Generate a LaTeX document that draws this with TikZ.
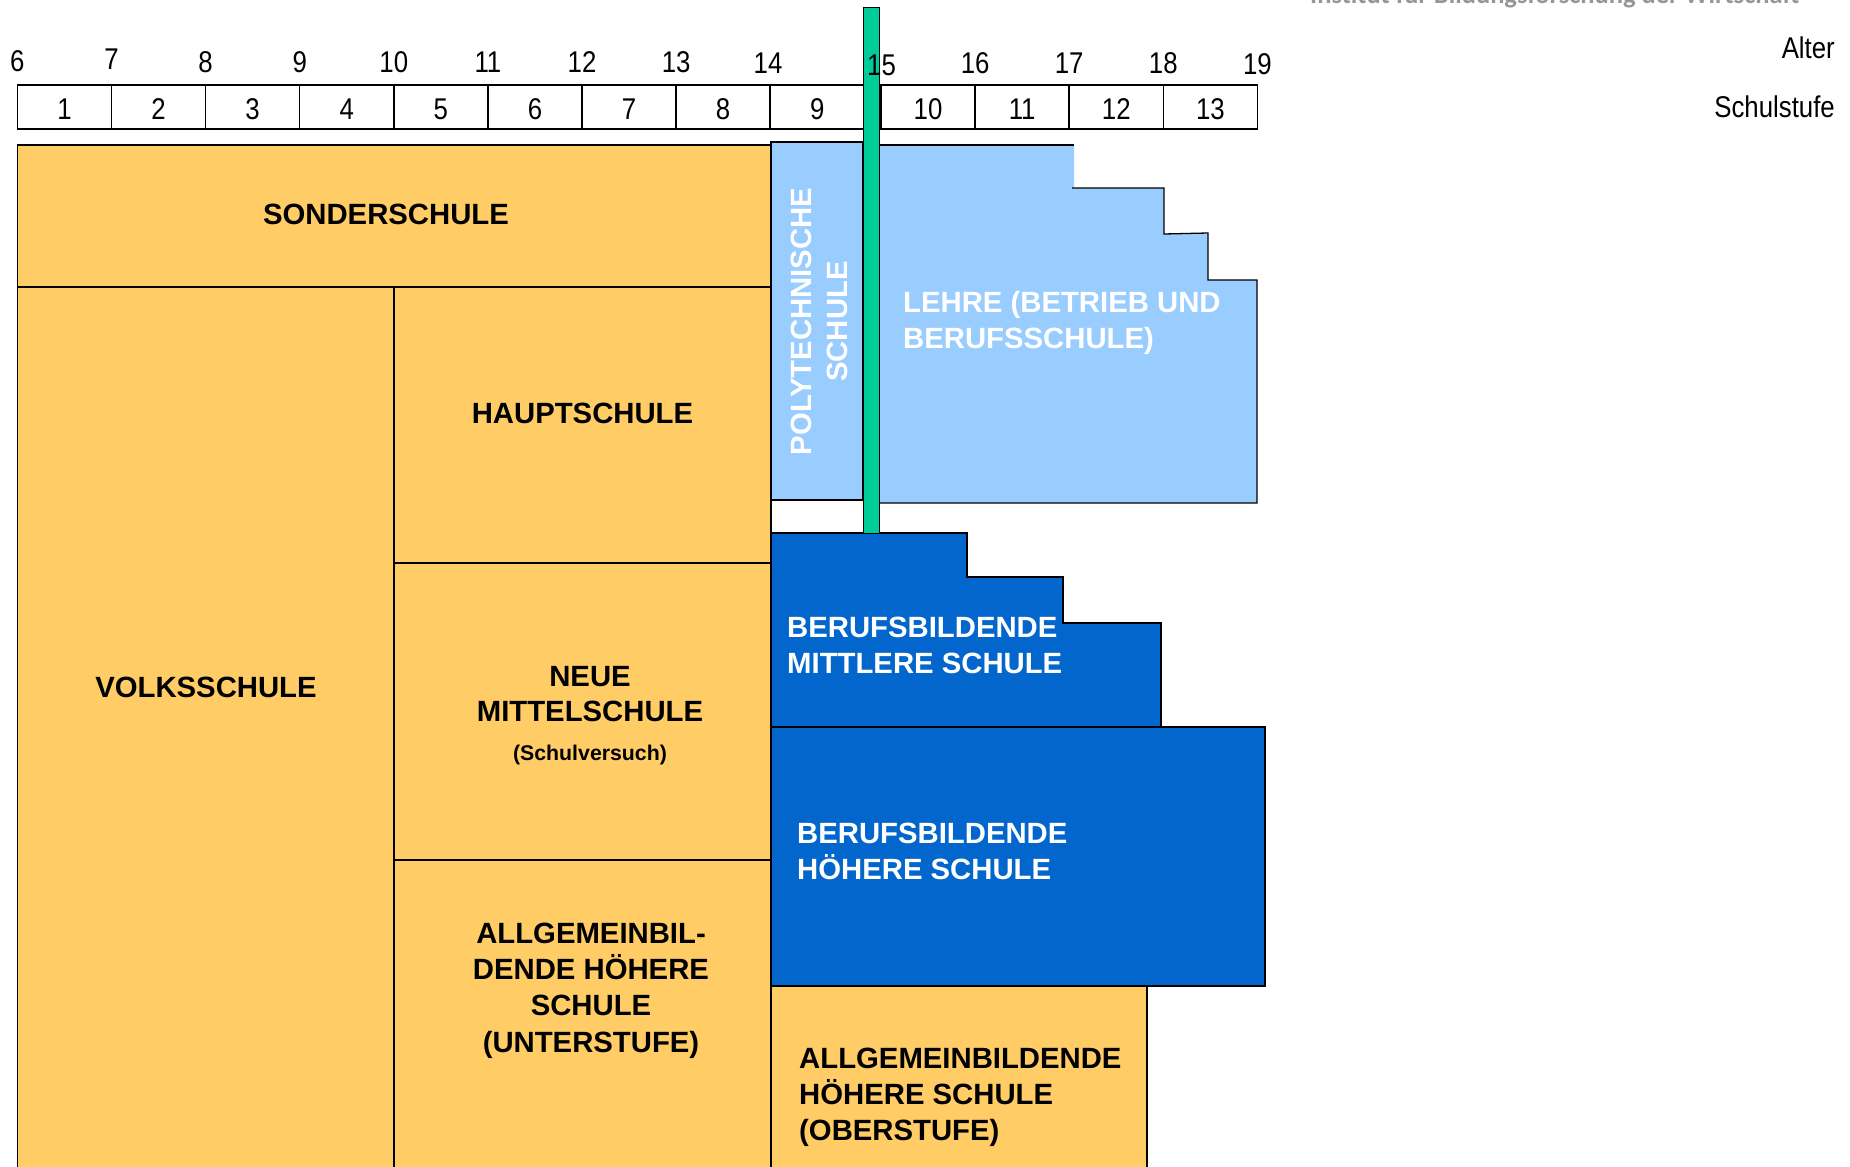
\documentclass[tikz,border=0pt]{standalone}
\usepackage{fontspec}
\setmainfont{Liberation Sans}
\newfontfamily\headfont{Carlito}
\newfontfamily\narrowfont[FakeStretch=0.86]{Liberation Sans}
\definecolor{orangec}{RGB}{255,204,102}
\definecolor{lightb}{RGB}{153,204,255}
\definecolor{darkb}{RGB}{2,102,204}
\definecolor{greenb}{RGB}{0,204,153}
\definecolor{headgray}{RGB}{150,150,150}
\begin{document}
\begin{tikzpicture}[x=1pt,y=-1pt,
  edge/.style={draw=black,line width=1.5pt},
  orangebox/.style={edge,fill=orangec},
  big/.style={font=\fontsize{29.3}{36}\selectfont\bfseries, inner sep=0pt},
  bigw/.style={big,text=white},
  num/.style={font=\narrowfont\fontsize{30}{34}\selectfont, inner sep=0pt, anchor=base},
]
\useasboundingbox (0,0) rectangle (1850,1167);
\clip (0,0) rectangle (1850,1167);
\fill[white] (0,0) rectangle (1850,1167);

% header (cut off at top, as in the source)
\node[font=\headfont\bfseries\fontsize{26.5}{30}\selectfont, text=headgray, anchor=base west, inner sep=0pt] (inst) at (1310,3) {Institut für Bildungsforschung der Wirtschaft};

% orange boxes
\draw[orangebox] (17.4,145) rectangle (771,287);
\draw[orangebox] (17.4,287) rectangle (394,1190);
\draw[orangebox] (394,287) rectangle (771,563);
\draw[orangebox] (394,563) rectangle (771,860);
\draw[orangebox] (394,860) rectangle (771,1190);
\draw[orangebox] (771,986) rectangle (1147,1190);

% light blue boxes
\draw[edge,fill=lightb] (771,142) rectangle (863,500);
\fill[lightb] (879,145) -- (1074,145) -- (1074,188) -- (1164,188) -- (1164,234) -- (1208,234) -- (1208,280) -- (1257,280) -- (1257,503) -- (879,503) -- cycle;
\draw[edge,line width=1.3pt] (879,145) -- (1074,145);
\draw[edge,line width=1.3pt] (1072,188) -- (1164,188) -- (1164,234) -- (1208,233) -- (1208,280) -- (1257,280) -- (1257,503) -- (879,503);

% dark blue boxes
\draw[edge,fill=darkb] (771,533) -- (967,533) -- (967,577) -- (1063,577) -- (1063,623) -- (1161,623) -- (1161,727) -- (771,727) -- cycle;
\draw[edge,fill=darkb] (771,727) rectangle (1265,986);

% ruler
\draw[edge] (17.4,85) rectangle (866,129);
\foreach \i in {1,...,8} \draw[edge] ({17.4+94.1*\i},85) -- ({17.4+94.1*\i},129);
\draw[edge] (881,85) rectangle (1257.4,129);
\foreach \i in {1,...,3} \draw[edge] ({881+94.1*\i},85) -- ({881+94.1*\i},129);

% green bar
\draw[fill=greenb,line width=0.8pt] (863,7) rectangle (879,533);

% cell numbers
\foreach \i in {1,...,9} \node[num] (c\i) at ({17.4+94.1*(\i-0.5)},119) {\i};
\foreach \i in {10,...,13} \node[num] (c\i) at ({881+94.1*(\i-9.5)},119) {\i};

% ages
\foreach \a/\x/\y in {6/17.4/71, 7/111.5/69, 8/205.6/72, 9/299.7/72, 10/393.8/72, 11/487.9/72, 12/582/72, 13/676.1/72, 14/768/73, 15/881.5/75, 16/975.1/73, 17/1069.2/73, 18/1163.3/73, 19/1257.4/74}
  \node[num] (a\a) at (\x,\y) {\a};

\node[num,anchor=base east] (alter) at (1835,58) {Alter};
\node[num,anchor=base east] (stufe) at (1835,117) {Schulstufe};

% labels
\node[big,anchor=base] (sonder) at (386,224) {SONDERSCHULE};
\node[big,anchor=base] (haupt) at (582.5,423) {HAUPTSCHULE};
\node[big,anchor=base] (volks) at (206,697) {VOLKSSCHULE};
\node[big,anchor=base] (neue) at (590,686) {NEUE};
\node[big,anchor=base] (mittel) at (590,721) {MITTELSCHULE};
\node[font=\fontsize{21.3}{24}\selectfont\bfseries, inner sep=0pt, anchor=base] (versuch) at (590,760) {(Schulversuch)};

\node[big,anchor=base] (ahsu1) at (591,943) {ALLGEMEINBIL-};
\node[big,anchor=base] (ahsu2) at (591,979) {DENDE HÖHERE};
\node[big,anchor=base] (ahsu3) at (591,1015) {SCHULE};
\node[big,anchor=base] (ahsu4) at (591,1052) {(UNTERSTUFE)};

\node[bigw,anchor=base,rotate=90] (poly1) at (811,321.5) {POLYTECHNISCHE};
\node[bigw,anchor=base,rotate=90] (poly2) at (847,321.5) {SCHULE};

\node[bigw,anchor=base west] (lehre1) at (903,312) {LEHRE (BETRIEB UND};
\node[bigw,anchor=base west] (lehre2) at (903,348) {BERUFSSCHULE)};

\node[bigw,anchor=base west] (bms1) at (787,637) {BERUFSBILDENDE};
\node[bigw,anchor=base west] (bms2) at (787,673) {MITTLERE SCHULE};

\node[bigw,anchor=base west] (bhs1) at (797,843) {BERUFSBILDENDE};
\node[bigw,anchor=base west] (bhs2) at (797,879) {HÖHERE SCHULE};

\node[big,anchor=base west] (ahso1) at (799,1068) {ALLGEMEINBILDENDE};
\node[big,anchor=base west] (ahso2) at (799,1104) {HÖHERE SCHULE};
\node[big,anchor=base west] (ahso3) at (799,1140) {(OBERSTUFE)};
\end{tikzpicture}
\end{document}
